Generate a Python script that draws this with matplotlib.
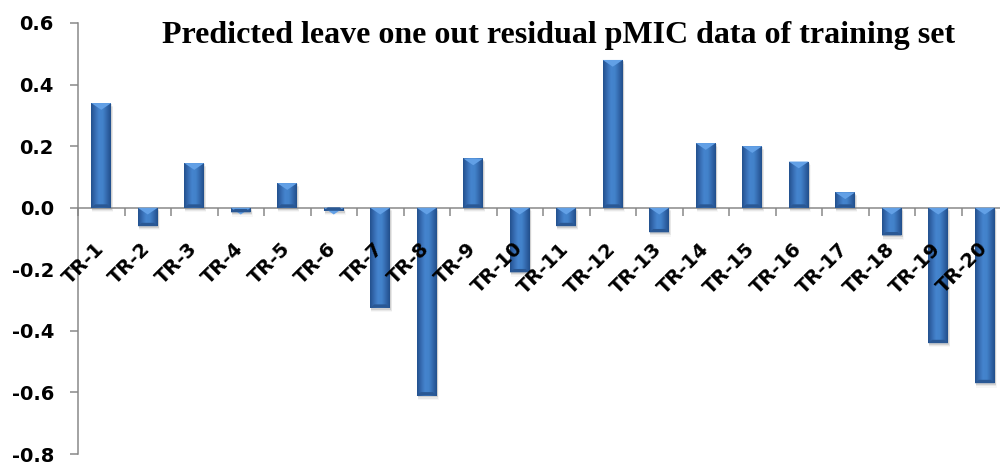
import numpy as np
import matplotlib
matplotlib.use("Agg")
import matplotlib.pyplot as plt
from matplotlib.colors import LinearSegmentedColormap
from matplotlib.patches import Polygon, Rectangle
from matplotlib.font_manager import FontProperties

# Leave-one-out residuals of the training set compounds
compounds = ["TR-1", "TR-2", "TR-3", "TR-4", "TR-5", "TR-6", "TR-7", "TR-8", "TR-9", "TR-10",
             "TR-11", "TR-12", "TR-13", "TR-14", "TR-15", "TR-16", "TR-17", "TR-18", "TR-19", "TR-20"]
residuals = [0.34, -0.06, 0.145, -0.015, 0.08, -0.01, -0.325, -0.61, 0.16, -0.21,
             -0.06, 0.48, -0.08, 0.21, 0.20, 0.15, 0.05, -0.09, -0.44, -0.57]
yticks = [-0.8, -0.6, -0.4, -0.2, 0.0, 0.2, 0.4, 0.6]
title = "Predicted leave one out residual pMIC data of training set"

W, H = 1000, 462
fig = plt.figure(figsize=(W / 72, H / 72), dpi=72)
fig.patch.set_facecolor("white")
ax = fig.add_axes([78 / W, 1 - 454 / H, 930 / W, (454 - 23) / H])

x = np.arange(len(compounds))
bar_w = 0.43
axis_grey = "#868686"
tick_font = FontProperties(family="DejaVu Sans", weight="bold", size=19.5)

# Soft drop shadow behind each bar
for xi, v in zip(x, residuals):
    lo = min(0, v)
    for k, a in enumerate([0.10, 0.06, 0.03]):
        ax.add_patch(Rectangle((xi - bar_w / 2 + 0.02, lo - 0.006 - 0.004 * k),
                               bar_w + 0.01 * k, abs(v) + 0.002,
                               facecolor="#000000", alpha=a, edgecolor="none", zorder=1))

bars = ax.bar(x, residuals, width=bar_w, color="#3b73ba", edgecolor="none", zorder=6)

# Horizontal shading across each bar: darker sides, brighter middle
shade = LinearSegmentedColormap.from_list(
    "bar_shade", ["#23518e", "#366bb1", "#4584ce", "#4282ca", "#3368ac", "#224f8b"])
grad = np.linspace(0, 1, 64).reshape(1, -1)
bevel = 0.022
for b in bars:
    bx, by = b.get_x(), b.get_y()
    bw, bh = b.get_width(), b.get_height()
    top, bot = max(by, by + bh), min(by, by + bh)
    im = ax.imshow(grad, cmap=shade, aspect="auto", extent=[bx, bx + bw, bot, top],
                   interpolation="bilinear", zorder=7)
    im.set_clip_path(b)
    # light bevel facet on the top edge
    tri = Polygon([[bx, top], [bx + bw, top], [bx + bw / 2, top - bevel]],
                  closed=True, facecolor="#62a0e6", edgecolor="none", zorder=8)
    tri.set_clip_path(b)
    ax.add_patch(tri)
    # darker facet on the bottom edge
    base = Polygon([[bx, bot], [bx + bw, bot], [bx + bw * 0.8, bot + bevel * 0.5],
                    [bx + bw * 0.2, bot + bevel * 0.5]],
                   closed=True, facecolor="#2a5894", edgecolor="none", zorder=8)
    base.set_clip_path(b)
    ax.add_patch(base)

ax.set_xlim(-0.5, len(compounds) - 0.5)
ax.set_ylim(-0.8, 0.6)

# Axes styling
for s in ["top", "right"]:
    ax.spines[s].set_visible(False)
ax.spines["left"].set_color(axis_grey)
ax.spines["left"].set_linewidth(1.5)
ax.spines["bottom"].set_position(("data", 0))
ax.spines["bottom"].set_color(axis_grey)
ax.spines["bottom"].set_linewidth(1.5)
ax.spines["bottom"].set_zorder(5)

ax.set_yticks(yticks)
ax.set_yticklabels([f"{t:.1f}" for t in yticks], fontproperties=tick_font)
ax.tick_params(axis="y", length=8, width=1.5, color=axis_grey, pad=16)

ax.set_xticks(x)
ax.set_xticklabels(compounds, fontproperties=tick_font, rotation=45,
                   rotation_mode="anchor", ha="right", va="center")
ax.set_xticks(np.arange(len(compounds) + 1) - 0.5, minor=True)
ax.tick_params(axis="x", which="major", length=0, pad=38)
ax.tick_params(axis="x", which="minor", length=8, width=1.5, color=axis_grey, direction="out")
# category labels sit on top of the bars
ax.xaxis.set_zorder(10)

fig.text(559 / W, 1 - 43 / H, title, ha="center", va="baseline",
         fontfamily="Liberation Serif", fontweight="bold", fontsize=32)

fig.savefig("out.png", dpi=72, facecolor="white")
